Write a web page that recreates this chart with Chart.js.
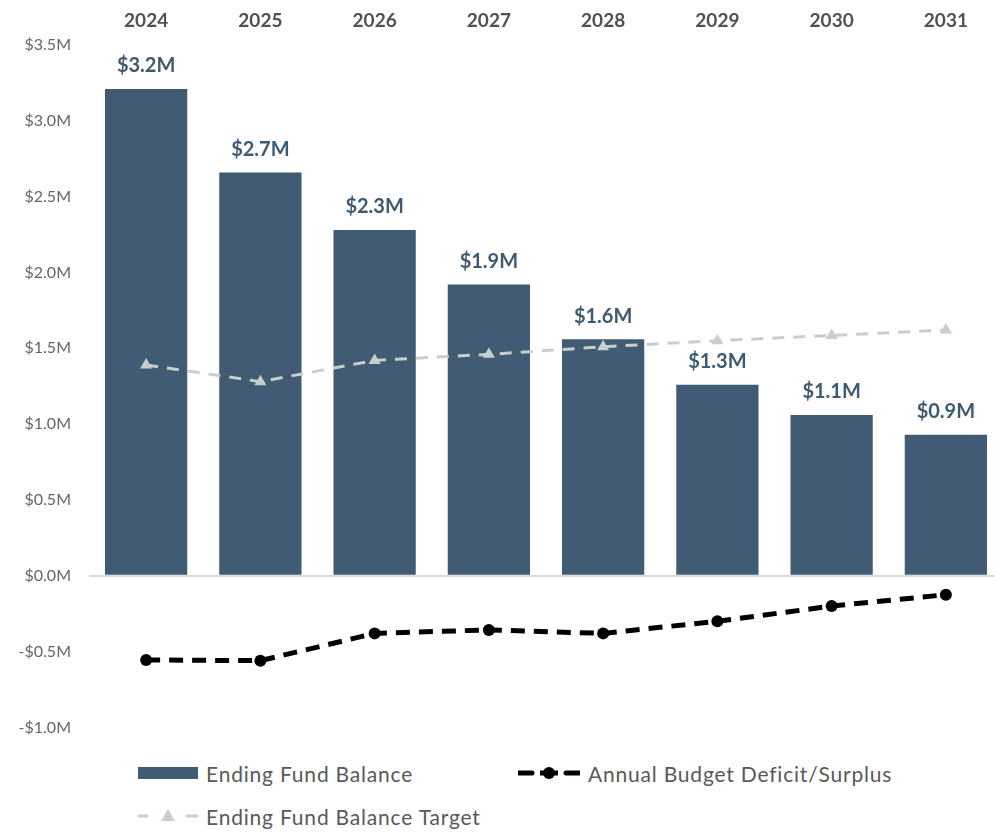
<!DOCTYPE html>
<html>
<head>
<meta charset="utf-8">
<title>Ending Fund Balance</title>
<script src="https://cdn.jsdelivr.net/npm/chart.js"></script>
<style>
  html, body { margin:0; padding:0; background:#fff; overflow:hidden; }
  body { width:995px; height:833px; position:relative; font-family:Lato, "Open Sans", sans-serif; }
  .wrap { position:absolute; left:0; top:0; width:1010px; height:755px; }
  .legend-item { position:absolute; display:flex; align-items:center; height:24px; font-size:21px; letter-spacing:0.8px; color:#595959; }
  .legend-item svg { margin-right:8px; }
</style>
</head>
<body>
<div class="wrap"><canvas id="chart"></canvas></div>
<div id="legend"></div>

<script>
  const years = ['2024', '2025', '2026', '2027', '2028', '2029', '2030', '2031'];
  // $ millions
  const fundBalance = [3.21, 2.66, 2.28, 1.92, 1.56, 1.26, 1.06, 0.93];
  const fundTarget = [1.39, 1.28, 1.42, 1.46, 1.51, 1.55, 1.585, 1.62];
  const budgetDeficit = [-0.555, -0.56, -0.38, -0.357, -0.38, -0.30, -0.20, -0.125];
  const yTicks = [-1.0, -0.5, 0.0, 0.5, 1.0, 1.5, 2.0, 2.5, 3.0, 3.5];

  const barColor = '#405b73';
  const targetColor = '#c6cfca';
  const fontFamily = 'Lato, "Open Sans", sans-serif';

  const money = v => (v < 0 ? '-$' : '$') + Math.abs(v).toFixed(1) + 'M';

  // value labels above the bars, drawn before the lines go on top
  const barLabels = {
    id: 'barLabels',
    afterDatasetDraw(chart, args) {
      if (args.index !== 0) return;
      const ctx = chart.ctx;
      ctx.save();
      ctx.font = 'bold 20px ' + fontFamily;
      ctx.fillStyle = '#3e5a72';
      ctx.textAlign = 'center';
      ctx.textBaseline = 'middle';
      args.meta.data.forEach((bar, i) => {
        ctx.fillText(money(fundBalance[i]), bar.x, bar.y - 23);
      });
      ctx.restore();
    }
  };

  const chart = new Chart(document.getElementById('chart'), {
    data: {
      labels: years,
      datasets: [
        {
          type: 'bar',
          label: 'Ending Fund Balance',
          data: fundBalance,
          backgroundColor: barColor,
          barPercentage: 0.72,
          categoryPercentage: 1,
          order: 3
        },
        {
          type: 'line',
          label: 'Annual Budget Deficit/Surplus',
          data: budgetDeficit,
          borderColor: '#000',
          borderWidth: 5,
          borderDash: [14, 9],
          pointStyle: 'circle',
          pointRadius: 6,
          pointBackgroundColor: '#000',
          pointBorderWidth: 0,
          tension: 0,
          order: 1
        },
        {
          type: 'line',
          label: 'Ending Fund Balance Target',
          data: fundTarget,
          borderColor: targetColor,
          borderWidth: 3,
          borderDash: [12, 9],
          pointStyle: 'triangle',
          pointRadius: 7,
          pointBackgroundColor: targetColor,
          pointBorderWidth: 0,
          tension: 0,
          order: 2
        }
      ]
    },
    options: {
      responsive: true,
      maintainAspectRatio: false,
      animation: false,
      layout: { padding: { top: 0, right: 4, bottom: 0, left: 0 } },
      plugins: {
        legend: { display: false },
        tooltip: { enabled: false }
      },
      scales: {
        x: {
          position: 'top',
          grid: { display: false },
          border: { display: false },
          ticks: {
            padding: 5,
            color: '#515151',
            font: { family: fontFamily, size: 19, weight: 'bold' }
          },
          afterFit(scale) { scale.height = 45; }
        },
        y: {
          min: -1,
          max: 3.5,
          afterBuildTicks(scale) { scale.ticks = yTicks.map(v => ({ value: v })); },
          grid: {
            drawTicks: false,
            lineWidth: 2,
            color: ctx => ctx.tick && ctx.tick.value === 0 ? '#d9d9d9' : 'rgba(0,0,0,0)'
          },
          border: { display: false },
          ticks: {
            padding: 18,
            color: '#666666',
            font: { family: fontFamily, size: 16 },
            callback: v => money(v)
          },
          afterFit(scale) { scale.width = 89; }
        }
      }
    },
    plugins: [barLabels]
  });

  // legend laid out in two columns under the plot
  function legendIcon(ds) {
    if (ds.type === 'bar') {
      return `<svg width="60" height="24"><rect x="0" y="6" width="60" height="12" fill="${ds.backgroundColor}"/></svg>`;
    }
    if (ds.pointStyle === 'circle') {
      return `<svg width="62" height="24">
        <line x1="0" y1="12" x2="14" y2="12" stroke="#000" stroke-width="5" stroke-linecap="round"/>
        <line x1="22" y1="12" x2="40" y2="12" stroke="#000" stroke-width="5"/>
        <circle cx="31" cy="12" r="6" fill="#000"/>
        <line x1="48" y1="12" x2="62" y2="12" stroke="#000" stroke-width="5" stroke-linecap="round"/>
      </svg>`;
    }
    return `<svg width="60" height="24">
      <line x1="0" y1="12" x2="10" y2="12" stroke="${ds.borderColor}" stroke-width="3"/>
      <polygon points="30,5 37,17 23,17" fill="${ds.pointBackgroundColor}"/>
      <line x1="48" y1="12" x2="60" y2="12" stroke="${ds.borderColor}" stroke-width="3"/>
    </svg>`;
  }

  const legendSpots = [
    { left: 138, top: 761 },
    { left: 518, top: 761 },
    { left: 138, top: 804 }
  ];
  document.getElementById('legend').innerHTML = chart.data.datasets.map((ds, i) =>
    `<div class="legend-item" style="left:${legendSpots[i].left}px;top:${legendSpots[i].top}px">${legendIcon(ds)}<span>${ds.label}</span></div>`
  ).join('');
</script>
</body>
</html>
